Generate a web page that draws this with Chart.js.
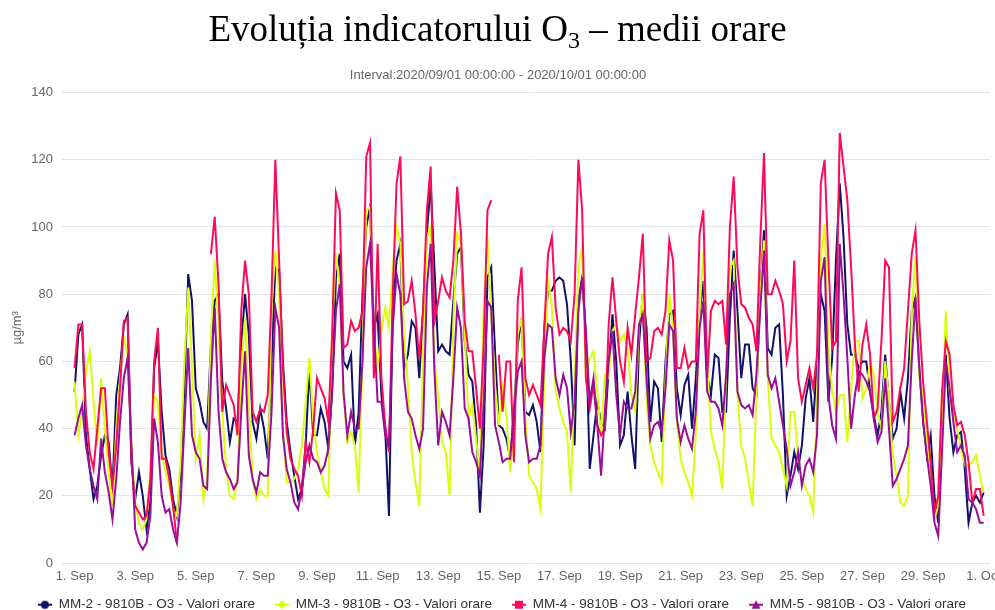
<!DOCTYPE html>
<html lang="ro">
<head>
    <meta charset="UTF-8">
    <title>Evoluția indicatorului O3 – medii orare</title>
    <script src="https://cdn.jsdelivr.net/npm/chart.js"></script>
    <style>
        html, body { margin: 0; padding: 0; background: #fff; }
        #wrap { position: relative; width: 995px; height: 610px; }
        #grafic { position: absolute; top: 0; left: 0; }
        h1 {
            position: absolute; top: 0; left: 0; width: 995px; margin: 0;
            text-align: center; font-family: 'Liberation Serif', 'Times New Roman', serif;
            font-weight: normal; font-size: 37px; line-height: 58px; color: #000;
        }
        h1 sub { font-size: 0.65em; vertical-align: baseline; position: relative; top: 0.3em; }
    </style>
</head>
<body>
<div id="wrap">
    <canvas id="grafic" width="995" height="610"></canvas>
    <h1>Evoluția indicatorului O<sub>3</sub> – medii orare</h1>
</div>

<script>
    // ore de la 2020/09/01 00:00, cate o valoare la 3 ore
    const ore = Array.from({ length: 241 }, (_, i) => i * 3);

    // etichete axa X
    const oreEtichete = [0, 48, 96, 144, 192, 240, 288, 336, 384, 432, 480, 528, 576, 624, 672, 720];
    const etichete = ['1. Sep', '3. Sep', '5. Sep', '7. Sep', '9. Sep', '11. Sep', '13. Sep', '15. Sep',
        '17. Sep', '19. Sep', '21. Sep', '23. Sep', '25. Sep', '27. Sep', '29. Sep', '1. Oct'];
    const valoriY = [0, 20, 40, 60, 80, 100, 120, 140];

    // MM-2 (cate 8 valori pe zi)
    const mm2 = [
        51, 68, 71, 38, 28, 19, 23, 32,
        38, 36, 22, 50, 58, 71, 74, 30,
        19, 27, 20, 10, 18, 58, 66, 45,
        32, 28, 19, 14, 27, 52, 86, 78,
        52, 48, 42, 40, 65, 78, 80, 54,
        46, 36, 43, 42, 65, 80, 68, 42,
        37, 46, 40, 31, 60, 88, 87, 60,
        42, 33, 26, 19, 22, 35, 58, 38,
        38, 46, 42, 34, 51, 85, 92, 60,
        58, 62, 35, 45, 80, 100, 106, 70,
        74, 50, 40, 14, 75, 90, 95, 58,
        62, 72, 70, 55, 75, 98, 113, 88,
        63, 65, 63, 62, 78, 92, 94, 66,
        56, 54, 41, 15, 35, 85, 88, 63,
        41, 40, 37, 31, 45, 65, 73, 45,
        44, 47, 42, 33, 70, 81, 81, 84,
        85, 84, 77, 60, 35, 78, 85, 68,
        28, 38, 48, 42, 40, 58, 74, 60,
        35, 38, 51, 38, 28, 65, 80, 70,
        42, 54, 52, 36, 60, 74, 75, 52,
        44, 53, 56, 40, 55, 74, 84, 56,
        50, 62, 61, 45, 45, 73, 93, 75,
        55, 65, 65, 52, 50, 80, 99, 64,
        62, 70, 71, 50, 20, 26, 33, 28,
        35, 49, 55, 42, 60, 80, 75, 48,
        61, 90, 113, 97, 71, 62, 62, 58,
        60, 60, 51, 44, 38, 45, 62, 48,
        37, 40, 51, 43, 55, 75, 79, 58,
        43, 32, 38, 20, 12, 41, 62, 43,
        33, 38, 39, 28, 12, 18, 20, 18,
        21
    ];

    // MM-3
    const mm3 = [
        54, 38, 45, 57, 63, 48, 35, 55,
        40, 27, 17, 40, 55, 67, 62, 35,
        18, 12, 10, 13, 27, 50, 48, 33,
        27, 23, 16, 14, 31, 60, 82, 58,
        31, 38, 19, 25, 68, 90, 70, 45,
        28, 20, 19, 25, 58, 73, 48, 25,
        19, 22, 20, 20, 76, 93, 80, 40,
        24, 24, 25, 28, 35, 48, 61, 42,
        33, 27, 22, 20, 70, 92, 82, 50,
        36, 39, 35, 21, 60, 105, 106, 68,
        58, 69, 76, 70, 88, 100, 95, 67,
        53, 33, 24, 17, 62, 97, 100, 60,
        50, 36, 33, 20, 72, 98, 95, 68,
        43, 47, 37, 26, 76, 97, 74, 53,
        41, 52, 44, 27, 41, 68, 73, 43,
        26, 24, 22, 16, 55, 85, 76, 51,
        46, 42, 39, 21, 55, 88, 94, 55,
        61, 63, 51, 38, 56, 55, 69, 71,
        66, 68, 64, 50, 45, 70, 80, 48,
        35, 30, 27, 24, 55, 80, 70, 42,
        31, 27, 24, 20, 38, 75, 93, 60,
        39, 34, 30, 22, 57, 88, 90, 50,
        35, 31, 24, 17, 50, 80, 96, 55,
        37, 35, 33, 28, 23, 45, 45, 32,
        25, 22, 20, 15, 48, 90, 101, 65,
        51, 45, 50, 50, 36, 52, 66, 66,
        49, 52, 60, 56, 45, 40, 60, 49,
        32, 26, 18, 17, 20, 75, 91, 55,
        50, 36, 27, 13, 17, 41, 75, 51,
        45, 40, 34, 29, 29, 30, 32, 26,
        21
    ];

    // MM-4 (null = lipsa date)
    const mm4 = [
        58, 71, 71, 45, 33, 28, 40, 52,
        52, 33, 23, 35, 52, 72, 73, 31,
        17, 15, 13, 14, 25, 60, 70, 31,
        31, 25, 17, 6, null, null, null, null,
        null, null, null, null, 92, 103, 83, 45,
        53, 50, 47, 38, 75, 90, 80, 45,
        42, 46, 45, 50, 80, 120, 90, 58,
        39, 31, 28, 26, 20, 36, 30, 40,
        55, 52, 49, 42, 68, 110, 105, 64,
        65, 72, 69, 70, 75, 121, 125, 55,
        95, 55, 41, 33, 80, 113, 121, 77,
        78, 84, 74, 61, 75, 105, 118, 72,
        78, 85, 81, 79, 90, 112, 98, 72,
        63, 63, 52, 40, 65, 105, 108, null,
        62, 45, 60, 60, 30, 78, 88, 55,
        50, 53, 50, 47, 70, 92, 97, 76,
        68, 70, 69, 66, 80, 120, 105, 55,
        46, 53, 41, 38, 40, 71, 85, 72,
        60, 54, 70, 62, 74, 85, 98, 60,
        61, 69, 70, 68, 75, 96, 90, 58,
        58, 64, 58, 60, 60, 98, 105, 55,
        75, 78, 77, 78, 65, 100, 115, 88,
        77, 76, 73, 71, 63, 95, 122, 80,
        80, 84, 81, 77, 60, 66, 90, 55,
        48, 53, 58, 52, 62, 113, 120, 90,
        64, 66, 128, 118, 108, 88, 65, 51,
        65, 71, 62, 43, 46, 66, 90, 88,
        42, 45, 52, 58, 75, 92, 99, 72,
        54, 42, 30, 15, 20, 51, 66, 62,
        47, 41, 42, 38, 30, 18, 22, 22,
        14
    ];

    // MM-5
    const mm5 = [
        38, 43, 47, 35, 28, 23, 19, 37,
        27, 21, 13, 25, 42, 55, 61, 35,
        10, 6, 4, 6, 14, 43, 36, 20,
        15, 16, 10, 6, 18, 41, 64, 38,
        33, 31, 23, 22, 55, 76, 45, 31,
        27, 25, 22, 24, 45, 63, 32, 25,
        21, 27, 26, 26, 45, 76, 70, 38,
        28, 24, 18, 16, 22, 30, 35, 31,
        30, 27, 29, 34, 52, 75, 83, 51,
        38, 45, 40, 40, 60, 88, 95, 70,
        48, 48, 38, 35, 70, 86, 80, 55,
        45, 43, 38, 34, 40, 82, 95, 57,
        35, 45, 42, 38, 55, 76, 70, 46,
        43, 33, 30, 26, 48, 78, 76, 41,
        36, 30, 31, 31, 45, 57, 60, 38,
        30, 31, 31, 35, 61, 71, 70, 55,
        50, 56, 52, 39, 48, 75, 85, 68,
        48, 55, 41, 26, 45, 60, 69, 50,
        38, 48, 46, 46, 51, 71, 74, 55,
        37, 41, 42, 39, 52, 71, 69, 43,
        36, 41, 37, 34, 45, 70, 78, 51,
        48, 48, 46, 41, 56, 80, 83, 51,
        47, 46, 47, 44, 56, 75, 93, 56,
        52, 55, 48, 41, 34, 23, 27, 33,
        23, 29, 31, 27, 38, 84, 91, 50,
        41, 37, 95, 80, 61, 40, 50, 57,
        56, 54, 51, 43, 36, 39, 55, 40,
        23, 25, 28, 31, 35, 60, 79, 58,
        42, 32, 23, 12, 8, 33, 60, 52,
        42, 33, 35, 32, 19, 18, 16, 12,
        12
    ];

    const serii = [
        { nume: 'MM-2 - 9810B - O3 - Valori orare', valori: mm2, culoare: '#12126a', simbol: 'cerc' },
        { nume: 'MM-3 - 9810B - O3 - Valori orare', valori: mm3, culoare: '#d9ff0a', simbol: 'romb' },
        { nume: 'MM-4 - 9810B - O3 - Valori orare', valori: mm4, culoare: '#ff0a56', simbol: 'patrat' },
        { nume: 'MM-5 - 9810B - O3 - Valori orare', valori: mm5, culoare: '#990f99', simbol: 'triunghi' }
    ];

    // simbol pentru legenda: linie + marker
    function simbolLegenda(culoare, simbol) {
        const c = document.createElement('canvas');
        c.width = 22; c.height = 12;
        const ctx = c.getContext('2d');
        ctx.strokeStyle = culoare;
        ctx.fillStyle = culoare;
        ctx.lineWidth = 2;
        ctx.beginPath(); ctx.moveTo(8, 6); ctx.lineTo(22, 6); ctx.stroke();
        const cx = 15, cy = 6;
        ctx.beginPath();
        if (simbol === 'cerc') {
            ctx.arc(cx, cy, 4, 0, Math.PI * 2);
        } else if (simbol === 'romb') {
            ctx.moveTo(cx, cy - 4.5); ctx.lineTo(cx + 4.5, cy); ctx.lineTo(cx, cy + 4.5); ctx.lineTo(cx - 4.5, cy);
        } else if (simbol === 'patrat') {
            ctx.rect(cx - 4, cy - 4, 8, 8);
        } else {
            ctx.moveTo(cx, cy - 4.5); ctx.lineTo(cx + 4.5, cy + 4); ctx.lineTo(cx - 4.5, cy + 4);
        }
        ctx.closePath();
        ctx.fill();
        return c;
    }

    const font = 'Liberation Sans, Arial, sans-serif';

    new Chart(document.getElementById('grafic').getContext('2d'), {
        type: 'line',
        data: {
            datasets: serii.map((s, k) => ({
                label: s.nume,
                data: ore.map((h, i) => ({ x: h, y: s.valori[i] })),
                borderColor: s.culoare,
                backgroundColor: s.culoare,
                borderWidth: 2,
                pointRadius: 0,
                pointHoverRadius: 0,
                pointStyle: simbolLegenda(s.culoare, s.simbol),
                tension: 0,
                fill: false,
                spanGaps: false,
                order: serii.length - 1 - k
            }))
        },
        options: {
            responsive: false,
            animation: false,
            devicePixelRatio: 1,
            layout: { padding: { top: 60, left: 6, right: 5, bottom: 0 } },
            plugins: {
                title: {
                    display: true,
                    text: 'Interval:2020/09/01 00:00:00 - 2020/10/01 00:00:00',
                    color: '#666666',
                    font: { family: font, size: 13, weight: 'normal' },
                    padding: { top: 8, bottom: 9 }
                },
                legend: {
                    position: 'bottom',
                    maxHeight: 24,
                    labels: {
                        usePointStyle: true,
                        pointStyleWidth: 22,
                        padding: 12,
                        color: '#333333',
                        font: { family: font, size: 13.5 },
                        sort: (a, b) => a.datasetIndex - b.datasetIndex
                    }
                },
                tooltip: { enabled: false }
            },
            scales: {
                x: {
                    type: 'linear',
                    min: -6,
                    max: 725,
                    grid: { display: false, drawTicks: false },
                    border: { display: false },
                    afterBuildTicks: scale => { scale.ticks = oreEtichete.map(v => ({ value: v })); },
                    afterFit: scale => { scale.paddingRight = 0; scale.height = 23; },
                    ticks: {
                        autoSkip: false,
                        maxRotation: 0,
                        padding: 6,
                        color: '#666666',
                        font: { family: font, size: 13 },
                        callback: v => etichete[oreEtichete.indexOf(v)]
                    }
                },
                y: {
                    min: 0,
                    max: 140,
                    afterBuildTicks: scale => { scale.ticks = valoriY.map(v => ({ value: v })); },
                    afterFit: scale => { scale.width = 61; },
                    grid: { color: '#e6e6e6', tickLength: 5, tickColor: '#e6e6e6' },
                    border: { display: false },
                    ticks: {
                        padding: 9,
                        color: '#666666',
                        font: { family: font, size: 13 }
                    },
                    title: {
                        display: true,
                        text: 'µg/m³',
                        color: '#666666',
                        font: { family: font, size: 13 },
                        padding: { top: 4, bottom: 5 }
                    }
                }
            }
        }
    });
</script>
</body>
</html>
